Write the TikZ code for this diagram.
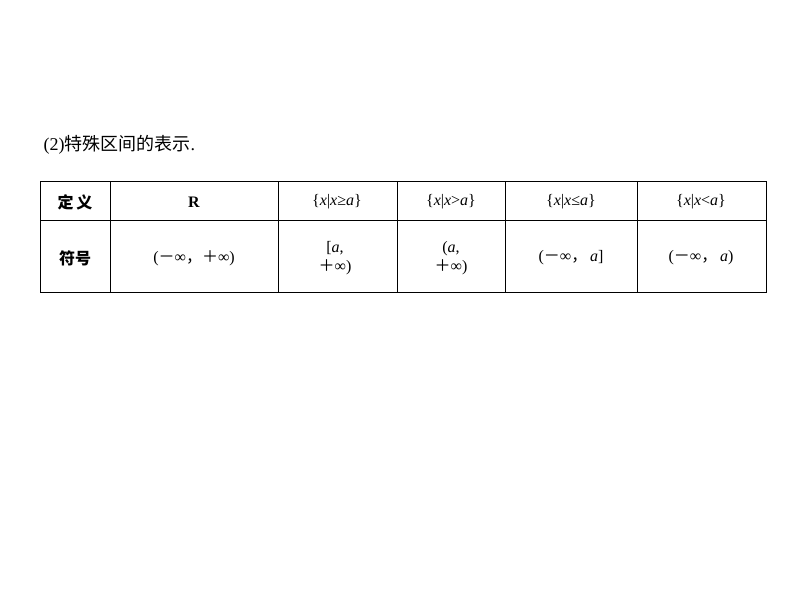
\documentclass[tikz,border=0pt]{standalone}
\usepackage{fontspec}
\setmainfont{Liberation Serif}
\newfontfamily\cjk{Noto Sans CJK SC}
\tikzset{cell/.style={font=\fontsize{16}{19}\selectfont, align=center, inner sep=0pt},
grid/.style={line width=0.8pt}}
\begin{document}
\begin{tikzpicture}[x=1pt,y=-1pt]
\useasboundingbox (0,0) rectangle (794,596);
\node[anchor=west, font=\fontsize{18}{20}\selectfont] (title) at (40,145) {(2){\cjk 特殊区间的表示}.};
\draw[grid] (40,181) rectangle (766,292);
\draw[grid] (40,220) -- (766,220);
\foreach \x in {110,278,397,505,637} \draw[grid] (\x,181) -- (\x,292);
\node[cell] (h0) at (75,202) {\cjk\bfseries 定\,义};
\node[cell] (h1) at (194,202) {\textbf{R}};
\node[cell] (h2) at (337,202) {\{\textit{x}|\textit{x}≥\textit{a}\}};
\node[cell] (h3) at (451,202) {\{\textit{x}|\textit{x}>\textit{a}\}};
\node[cell] (h4) at (571,202) {\{\textit{x}|\textit{x}≤\textit{a}\}};
\node[cell] (h5) at (701,202) {\{\textit{x}|\textit{x}<\textit{a}\}};
\node[cell] (r0) at (75,258) {\cjk\bfseries 符号};
\node[cell] (r1) at (194,258) {({\cjk －}∞{\cjk ，}{\cjk ＋}∞)};
\node[cell] (r2) at (335,258) {[\textit{a},\hspace{1em}\\{\cjk ＋}∞)};
\node[cell] (r3) at (451,258) {(\textit{a},\hspace{1em}\\{\cjk ＋}∞)};
\node[cell] (r4) at (571,258) {({\cjk －}∞{\cjk ，}\,\textit{a}]};
\node[cell] (r5) at (701,258) {({\cjk －}∞{\cjk ，}\,\textit{a})};
\end{tikzpicture}
\end{document}
